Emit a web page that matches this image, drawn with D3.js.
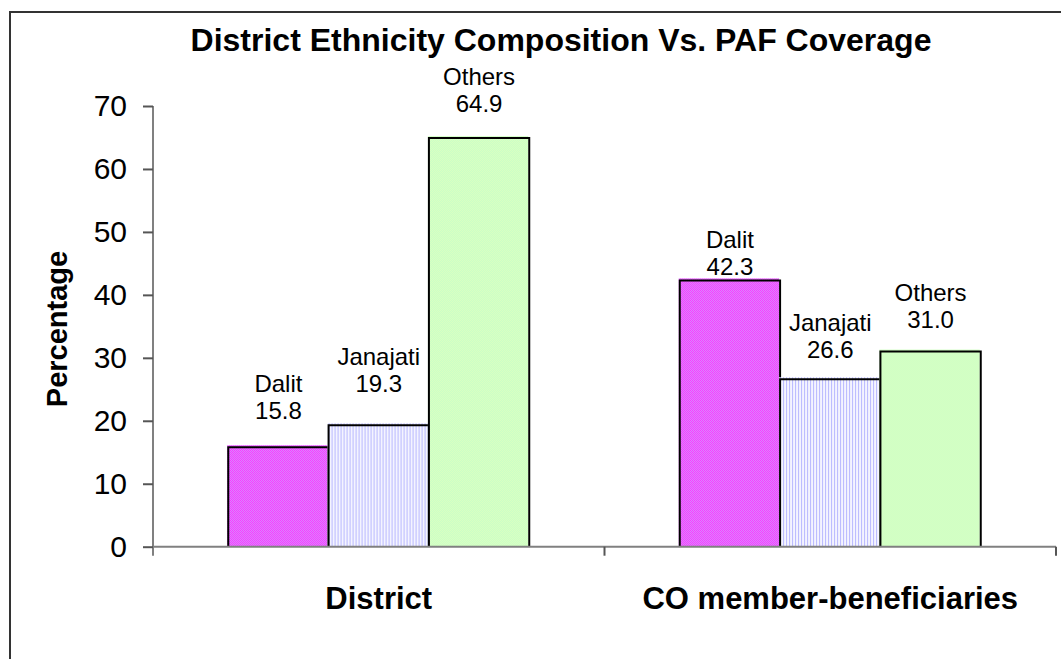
<!DOCTYPE html>
<html>
<head>
<meta charset="utf-8">
<script src="https://cdn.jsdelivr.net/npm/d3@7"></script>
<style>
  body { margin: 0; background: #fff; }
  text { font-family: Arial, "Liberation Sans", sans-serif; fill: #000; }
</style>
</head>
<body>
<div id="chart"></div>
<script>
//////////////////////////////////////////////////////////////////////////////
// Data

const groups = ["District", "CO member-beneficiaries"];
const ethnicities = ["Dalit", "Janajati", "Others"];
const districtValues = [15.8, 19.3, 64.9];
const coValues = [42.3, 26.6, 31.0];
const yTicks = [0, 10, 20, 30, 40, 50, 60, 70];

// labels were dragged by hand in the original, px between label and bar top
const labelLift = [[28, 33, 26], [5, 21, 24]];

//////////////////////////////////////////////////////////////////////////////
// Layout

const width = 1061;
const height = 659;
const plotLeft = 153, plotRight = 1056, plotTop = 106, plotBottom = 546.7;

const rows = [];
groups.forEach((g, gi) => {
  const vals = gi === 0 ? districtValues : coValues;
  ethnicities.forEach((e, ei) => {
    rows.push({group: g, eth: e, value: vals[ei], lift: labelLift[gi][ei]});
  });
});

const x0 = d3.scaleBand()
    .domain(groups)
    .range([plotLeft, plotRight]);

const x1 = d3.scaleBand()
    .domain(ethnicities)
    .range([0, x0.bandwidth()])
    .paddingInner(0)
    .paddingOuter(0.75);

const y = d3.scaleLinear()
    .domain([0, 70])
    .range([plotBottom, plotTop]);

const svg = d3.select("#chart").append("svg")
    .attr("width", width)
    .attr("height", height);

// fill patterns like the old excel hatches
const defs = svg.append("defs");

function checker(id, a, b) {
  const p = defs.append("pattern")
      .attr("id", id)
      .attr("patternUnits", "userSpaceOnUse")
      .attr("width", 2).attr("height", 2);
  p.append("rect").attr("width", 2).attr("height", 2).attr("fill", b);
  p.append("rect").attr("width", 1).attr("height", 1).attr("fill", a);
  p.append("rect").attr("x", 1).attr("y", 1).attr("width", 1).attr("height", 1).attr("fill", a);
}
checker("pDalit", "#ff22ff", "#d2a0ff");
checker("pOthers", "#c8ffc8", "#dcffc0");

const stripes = defs.append("pattern")
    .attr("id", "pJanajati")
    .attr("patternUnits", "userSpaceOnUse")
    .attr("width", 3).attr("height", 3);
stripes.append("rect").attr("width", 3).attr("height", 3).attr("fill", "#f4f4ff");
stripes.append("rect").attr("width", 1).attr("height", 3).attr("fill", "#b8b8ff");

const fillFor = {Dalit: "url(#pDalit)", Janajati: "url(#pJanajati)", Others: "url(#pOthers)"};

// outer frame, runs off the right and bottom edge
svg.append("rect")
    .attr("x", 10).attr("y", 12)
    .attr("width", width + 20).attr("height", height + 20)
    .attr("fill", "none")
    .attr("stroke", "#333")
    .attr("stroke-width", 2);

//////////////////////////////////////////////////////////////////////////////
// Bars

const bars = svg.append("g")
    .selectAll("g")
    .data(rows)
    .join("g")
    .attr("transform", d => `translate(${x0(d.group) + x1(d.eth)},0)`);

bars.append("rect")
    .attr("x", -1)
    .attr("y", d => y(d.value) - 2)
    .attr("width", x1.bandwidth())
    .attr("height", d => plotBottom - y(d.value) + 2)
    .attr("fill", d => fillFor[d.eth]);

bars.append("path")
    .attr("d", d => `M0,${plotBottom}V${y(d.value)}H${x1.bandwidth()}V${plotBottom}`)
    .attr("fill", "none")
    .attr("stroke", "#000")
    .attr("stroke-width", 2);

bars.append("text")
    .attr("x", x1.bandwidth() / 2)
    .attr("y", d => y(d.value) - d.lift)
    .attr("text-anchor", "middle")
    .style("font-size", "24px")
    .text(d => d.value.toFixed(1));

bars.append("text")
    .attr("x", x1.bandwidth() / 2)
    .attr("y", d => y(d.value) - d.lift - 27)
    .attr("text-anchor", "middle")
    .style("font-size", "24px")
    .text(d => d.eth);

//////////////////////////////////////////////////////////////////////////////
// Axes

const yAxis = d3.axisLeft(y)
    .tickValues(yTicks)
    .tickSize(10)
    .tickPadding(16)
    .tickSizeOuter(0);

svg.append("g")
    .attr("transform", `translate(${plotLeft},0)`)
    .call(yAxis)
    .call(g => g.select(".domain").attr("stroke", "#808080").attr("stroke-width", 2)
        .attr("d", `M0,${plotTop}V${plotBottom + 9}`))
    .call(g => g.selectAll(".tick line").attr("stroke", "#555").attr("stroke-width", 2))
    .call(g => g.selectAll(".tick text")
        .style("font-family", "Arial, 'Liberation Sans', sans-serif")
        .style("font-size", "30px")
        .attr("fill", "#000"));

const xAxis = d3.axisBottom(x0)
    .tickSize(0)
    .tickPadding(0)
    .tickFormat("");

svg.append("g")
    .attr("transform", `translate(0,${plotBottom})`)
    .call(xAxis)
    .call(g => g.select(".domain").attr("stroke", "#808080").attr("stroke-width", 2)
        .attr("d", `M${plotLeft},0H${plotRight}`));

// divider ticks between the categories
svg.append("g")
    .selectAll("line")
    .data(groups)
    .join("line")
    .attr("x1", d => x0(d) + x0.bandwidth())
    .attr("x2", d => x0(d) + x0.bandwidth())
    .attr("y1", plotBottom)
    .attr("y2", plotBottom + 9)
    .attr("stroke", "#555")
    .attr("stroke-width", 2);

svg.append("g")
    .selectAll("text")
    .data(groups)
    .join("text")
    .attr("x", d => x0(d) + x0.bandwidth() / 2)
    .attr("y", 609)
    .attr("text-anchor", "middle")
    .style("font-size", "31px")
    .style("font-weight", "bold")
    .text(d => d);

svg.append("text")
    .attr("transform", "translate(67,329) rotate(-90)")
    .attr("text-anchor", "middle")
    .style("font-size", "29px")
    .style("font-weight", "bold")
    .text("Percentage");

svg.append("text")
    .attr("x", 561)
    .attr("y", 51)
    .attr("text-anchor", "middle")
    .style("font-size", "32px")
    .style("font-weight", "bold")
    .text("District Ethnicity Composition Vs. PAF Coverage");
</script>
</body>
</html>
